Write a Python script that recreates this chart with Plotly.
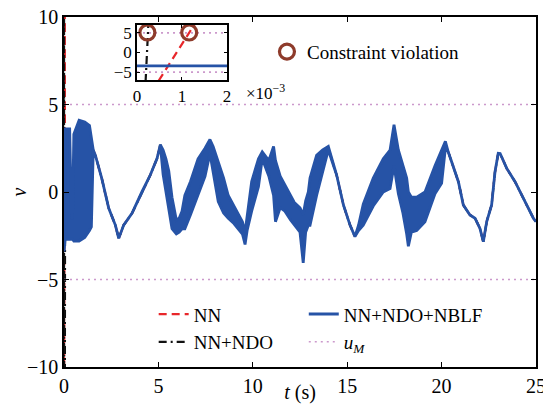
import plotly.graph_objects as go

# ---------------- data ----------------
# NN+NDO+NBLF: time points with upper / lower envelope of the chattering band
blue_t = [0.0, 0.002, 0.06, 0.3, 0.4, 0.45, 0.52, 0.8, 1.1, 1.35, 1.45, 1.55, 1.66,
          2.0, 2.37, 2.72, 2.9, 3.16, 3.6, 4.13, 4.57, 4.93, 5.1, 5.25, 5.4, 5.55,
          5.72, 5.95, 6.1, 6.25, 6.4, 6.7, 7.1, 7.47, 7.73, 7.9, 8.17, 8.45, 8.7,
          9.0, 9.23, 9.45, 9.59, 9.7, 9.94, 10.3, 10.5, 10.85, 11.1, 11.2, 11.45,
          11.7, 12.0, 12.2, 12.5, 12.67, 12.8, 12.94, 13.03, 13.38, 13.7, 14.0,
          14.44, 14.8, 15.15, 15.41, 15.6, 15.85, 16.38, 16.91, 17.27, 17.48, 17.71,
          17.95, 18.15, 18.24, 18.4, 18.68, 19.12, 19.65, 20.0, 20.2, 20.35, 20.53,
          20.89, 21.15, 21.5, 21.77, 22.03, 22.21, 22.39, 22.65, 22.83, 23.0, 23.1,
          23.45, 23.89, 24.42, 24.86, 25.0]
blue_hi = [-3.4, -3.4, 3.6, 3.6, -1.5, -1.5, 3.3, 4.1, 4.0, 3.8, 3.2, 2.4, 2.1,
           0.78, -0.93, -1.89, -2.65, -1.89, -1.22, 0.02, 0.97, 1.92, 2.7, 2.4, 1.9, 1.2,
           -0.3, -1.6, -1.5, -1.1, -0.2, 0.6, 1.9, 2.5, 3.0, 2.6, 1.7, 0.8, -0.2,
           -0.8, -1.3, -1.7, -2.3, -1.3, 0.6, 1.9, 2.3, 1.8, 2.6, 1.8, 0.9,
           0.4, -0.2, -0.6, -0.9, -1.3, -0.5, 0.0, 0.8, 2.1, 2.4, 2.6,
           0.97, -0.74, -1.89, -2.55, -1.9, -0.7, 0.8, 1.9, 2.4, 3.85, 2.4,
           1.6, 0.8, 0.0, -0.3, -0.3, 0.0, 1.5, 2.4, 2.9, 2.3, 1.73,
           0.59, -0.74, -1.31, -1.5, -2.08, -2.84, -1.69, -0.74, 1.16, 2.21, 2.2,
           1.35, 0.59, -0.55, -1.5, -1.7]
blue_lo = [-3.4, -3.4, -2.7, -2.7, -2.7, -2.7, -2.8, -2.8, -2.6, -2.2, -2.0, 2.4, 2.1,
           0.78, -0.93, -1.89, -2.65, -1.89, -1.22, 0.02, 0.97, 1.92, 2.7, 1.0, 0.2, -0.9,
           -2.1, -2.4, -2.3, -2.1, -2.1, -1.3, -0.2, 0.9, 2.2, 1.0, -0.55, -1.2, -1.5,
           -1.8, -2.1, -2.4, -3.0, -2.2, -1.1, 0.3, 1.9, 0.9, -0.2, -1.7, -0.9,
           -1.1, -1.6, -1.9, -2.3, -4.05, -2.3, -1.9, -1.9, -0.2, 1.2, 2.4,
           0.97, -0.74, -1.89, -2.55, -2.2, -1.9, -0.8, 0.0, 0.2, 1.5, -0.1,
           -1.2, -2.4, -3.1, -2.3, -2.2, -1.7, -0.1, 0.5, 2.5, 2.3, 1.73,
           0.59, -0.74, -1.31, -1.5, -2.08, -2.84, -1.69, -0.74, 1.16, 2.21, 2.2,
           1.35, 0.59, -0.55, -1.5, -1.7]

# NN: initial transient (hits the bounds), then it follows the NBLF response
nn_t0 = [0.00048, 0.00128, 0.0016, 0.006, 0.01, 0.015, 0.02, 0.03, 0.04, 0.05]
nn_v0 = [-7.2, 7.2, 11.0, -12.0, 12.0, -12.0, 12.0, -12.0, 12.0, -2.0]
# NN+NDO: initial transient
ndo_t0 = [0.00019, 0.00024, 0.00026, 0.0025, 0.004, 0.008, 0.013, 0.018, 0.025, 0.035, 0.045, 0.055]
ndo_v0 = [-7.5, 7.5, 9.0, 12.0, -12.0, 12.0, -12.0, 12.0, -12.0, 12.0, -12.0, -2.0]

# constraint bound u_M
uM = 5.0
# constraint-violation points (inset)
viol_t = [0.00023, 0.00116]
viol_v = [5.1, 5.1]

x_ticks = [0, 5, 10, 15, 20, 25]
y_ticks = [-10, -5, 0, 5, 10]
inset_xticks = [0, 0.001, 0.002]
inset_xlabels = ["0", "1", "2"]
inset_yticks = [-5, 0, 5]

# ---------------- styling ----------------
BLUE = "#2653A6"
RED = "#E8262A"
BLACK = "#111111"
PINK = "#CC99CC"
BROWN = "#8E3B2B"
FONT = "Liberation Serif"

mid = [(a + b) / 2 for a, b in zip(blue_hi, blue_lo)]
tail_t = blue_t[3:]
tail_v = mid[3:]

fig = go.Figure()

for xa, ya, show in [("x", "y", True), ("x2", "y2", False)]:
    xr = [0, 25] if xa == "x" else [0, 0.002]
    # NN
    fig.add_trace(go.Scatter(x=nn_t0 + tail_t, y=nn_v0 + tail_v, mode="lines",
                             line=dict(color=RED, width=2.2, dash="8px,5px"),
                             name="NN", legend="legend", showlegend=show, xaxis=xa, yaxis=ya))
    # NN+NDO
    fig.add_trace(go.Scatter(x=ndo_t0 + tail_t, y=ndo_v0 + tail_v, mode="lines",
                             line=dict(color=BLACK, width=2.2, dash="8px,4px,2px,4px"),
                             name="NN+NDO", legend="legend", showlegend=show, xaxis=xa, yaxis=ya))
    # NN+NDO+NBLF band
    fig.add_trace(go.Scatter(x=blue_t + blue_t[::-1], y=blue_hi + blue_lo[::-1],
                             mode="lines", fill="toself", fillcolor=BLUE,
                             line=dict(color=BLUE, width=2.8),
                             showlegend=False, hoverinfo="skip", xaxis=xa, yaxis=ya))
    if show:
        fig.add_trace(go.Scatter(x=[None], y=[None], mode="lines",
                                 line=dict(color=BLUE, width=3),
                                 name="NN+NDO+NBLF", legend="legend3"))
    # u_M bounds
    fig.add_trace(go.Scatter(x=[xr[0], xr[1], None, xr[0], xr[1]], y=[uM, uM, None, -uM, -uM],
                             mode="lines", line=dict(color=PINK, width=1.6, dash="2px,4px"),
                             name="<i>u</i><sub><i>M</i></sub>", legend="legend3",
                             showlegend=show, xaxis=xa, yaxis=ya))

# constraint violation markers
fig.add_trace(go.Scatter(x=viol_t, y=viol_v, mode="markers",
                         marker=dict(symbol="circle-open", size=15, color=BROWN,
                                     line=dict(width=3.2, color=BROWN)),
                         name="Constraint violation", legend="legend2",
                         xaxis="x2", yaxis="y2"))

axis_common = dict(showgrid=False, zeroline=False, ticks="inside", ticklen=5,
                   tickwidth=1.2, tickcolor="black", showline=True, linecolor="black",
                   linewidth=1.6, mirror="ticks", automargin=False,
                   ticklabeloverflow="allow",
                   tickfont=dict(family=FONT, size=20, color="black"))
inset_common = {**axis_common, "tickfont": dict(family=FONT, size=17, color="black"), "ticklen": 3}

leg_common = dict(bgcolor="rgba(0,0,0,0)", font=dict(family=FONT, size=19),
                  xanchor="left", yanchor="top", orientation="v", traceorder="normal",
                  tracegroupgap=0)

fig.update_layout(
    width=543, height=396, template="none",
    paper_bgcolor="white", plot_bgcolor="white",
    margin=dict(l=56, r=15, t=9, b=37, autoexpand=False),
    font=dict(family=FONT, color="black"),
    xaxis=dict(range=[0, 25], tickvals=x_ticks, domain=[0, 1],
               title=dict(text="<i>t</i> (s)", font=dict(family=FONT, size=20), standoff=9),
               **axis_common),
    yaxis=dict(range=[-10, 10], tickvals=y_ticks, domain=[0, 1],
               title=dict(text="<i>v</i>", font=dict(family=FONT, size=20), standoff=4),
               **axis_common),
    xaxis2=dict(range=[0, 0.002], tickvals=inset_xticks, ticktext=inset_xlabels,
                domain=[0.1547, 0.3453], anchor="y2", **inset_common),
    yaxis2=dict(range=[-7, 7], tickvals=inset_yticks, domain=[0.82, 0.977], anchor="x2",
                **inset_common),
    legend=dict(x=0.19, y=0.205, **leg_common),
    legend3=dict(x=0.508, y=0.205, **leg_common),
    legend2=dict(x=0.43, y=0.955, itemwidth=30, **leg_common),
    annotations=[dict(text="×10<sup>−3</sup>", xref="paper", yref="paper", x=0.382, y=0.785,
                      xanchor="left", yanchor="middle", showarrow=False,
                      font=dict(family=FONT, size=17))],
    showlegend=True,
)

fig.write_html("out.html")
